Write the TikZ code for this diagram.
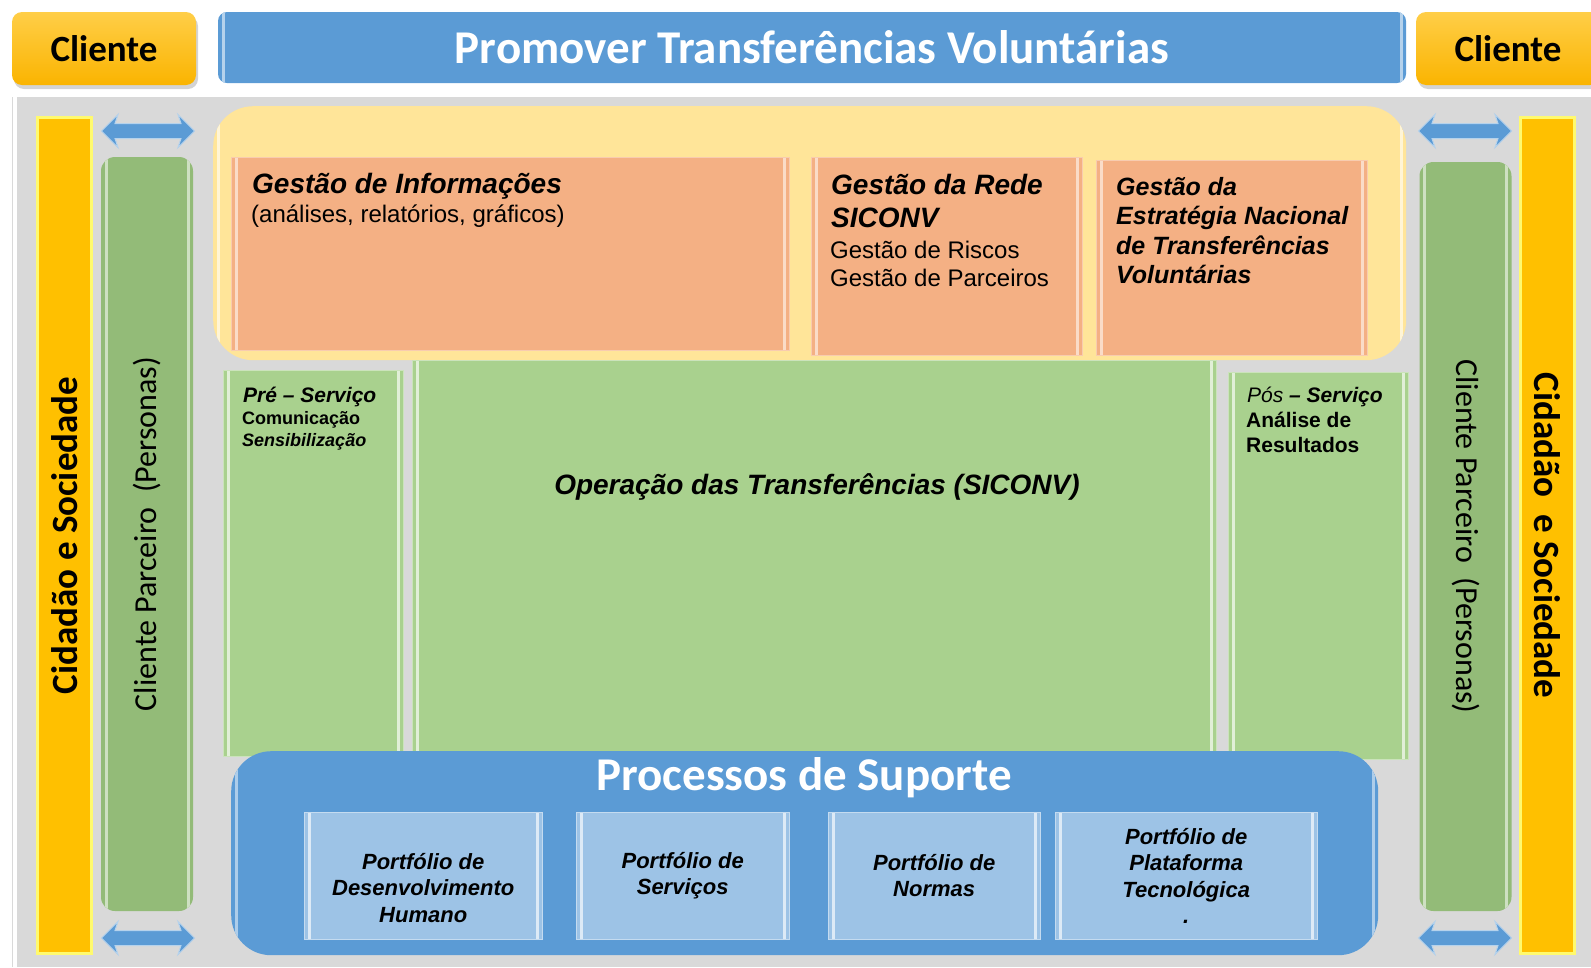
\documentclass[tikz,border=0pt]{standalone}
\usepackage{fontspec}
\setmainfont{Liberation Sans}
\newfontfamily\calibri{Carlito}
\usetikzlibrary{shapes.arrows,shadows}
\definecolor{cliTop}{RGB}{255,206,72}
\definecolor{cliBot}{RGB}{250,180,0}
\definecolor{azul}{RGB}{91,155,213}
\definecolor{azulClaro}{RGB}{157,195,230}
\definecolor{cinza}{RGB}{217,217,217}
\definecolor{ouro}{RGB}{255,192,0}
\definecolor{ouroBrilho}{RGB}{255,250,110}
\definecolor{verdeEsc}{RGB}{147,187,120}
\definecolor{verde}{RGB}{169,209,142}
\definecolor{creme}{RGB}{255,229,153}
\definecolor{salmao}{RGB}{244,176,132}
\newcommand{\fsz}[1]{\fontsize{#1}{#1}\selectfont}
\tikzset{
	bevel/.style={path picture={
		\draw[#1, line width=3pt] ([xshift=5pt]path picture bounding box.north west)--([xshift=5pt]path picture bounding box.south west);
		\draw[#1, line width=3pt] ([xshift=-5pt]path picture bounding box.north east)--([xshift=-5pt]path picture bounding box.south east);
	}},
	cliente/.style={rounded corners=10pt, top color=cliTop, bottom color=cliBot, drop shadow={opacity=0.35, shadow xshift=2pt, shadow yshift=-4pt}, minimum width=184pt, minimum height=73pt, inner sep=0pt, font=\calibri\bfseries\fsz{37}},
	titlebar/.style={rounded corners=9pt, fill=azul, bevel=white!55!azul, text=white, inner sep=0pt, font=\calibri\bfseries\fsz{47}},
	cidbar/.style={fill=ouro, draw=ouroBrilho, line width=3pt, minimum width=54pt, minimum height=836pt, inner sep=0pt},
	parbar/.style={rounded corners=14pt, fill=verdeEsc, bevel=white!55!verdeEsc, minimum width=92pt, inner sep=0pt},
	vtxt/.style={inner sep=0pt, font=\calibri\fsz{32}},
	dblarrow/.style={double arrow, fill=azul, draw=white!55!azul, line width=1pt, minimum height=93pt, inner xsep=0pt, inner ysep=7pt, double arrow head extend=9pt, double arrow head indent=3pt},
	obox/.style={fill=salmao, draw=white!35!salmao, bevel=white!55!salmao, anchor=north west, inner sep=0pt},
	gbox/.style={fill=verde, draw=white!40!verde, bevel=white!65!verde, anchor=north west, inner sep=0pt},
	pbox/.style={fill=azulClaro, draw=white!40!azulClaro, bevel=white!65!azulClaro, anchor=north west, inner sep=0pt, align=center, font=\bfseries\itshape\fontsize{22}{26.5}\selectfont},
	bi/.style={anchor=base west, inner sep=0pt, font=\bfseries\itshape\fsz{#1}},
	rg/.style={anchor=base west, inner sep=0pt, font=\fsz{#1}},
}

\begin{document}
\begin{tikzpicture}[x=1pt, y=-1pt]
		\useasboundingbox (0,0) rectangle (1591,967);
		\fill[cinza] (12,97) rectangle (1591,967);
		\draw[white, line width=4pt] (15,97)--(15,967);
		%
		\node (cliL)[cliente] at (104,48.5) {Cliente};
		\node (cliR)[cliente] at (1508,48.5) {Cliente};
		\node (titulo)[titlebar, minimum width=1188pt, minimum height=71pt] at (812,47.5) {Promover Transferências Voluntárias};
		%
		\node (cidL)[cidbar] at (64.5,535.5) {};
		\node (cidLt)[vtxt, rotate=90, font=\calibri\bfseries\fsz{37}] at (cidL.center) {Cidadão e Sociedade};
		\node (cidR)[cidbar] at (1547.5,535.5) {};
		\node (cidRt)[vtxt, rotate=-90, font=\calibri\bfseries\fsz{37}] at (cidR.center) {Cidadão~ e Sociedade};
		%
		\node (parL)[parbar, minimum height=754pt] at (147,534) {};
		\node (parLt)[vtxt, rotate=90] at (parL.center) {Cliente Parceiro~ (Personas)};
		\node (parR)[parbar, minimum height=749pt] at (1465.5,536.5) {};
		\node (parRt)[vtxt, rotate=-90] at (parR.center) {Cliente Parceiro~ (Personas)};
		%
		\node (setaLa)[dblarrow] at (148,131) {};
		\node (setaLb)[dblarrow] at (148,938) {};
		\node (setaRa)[dblarrow] at (1465,131) {};
		\node (setaRb)[dblarrow] at (1465,938) {};
		%
		\node (gestao)[rounded corners=40pt, fill=creme, bevel=white!60!creme, anchor=north west, minimum width=1193pt, minimum height=254pt, inner sep=0pt] at (213,106) {};
		\node (info)[obox, minimum width=558pt, minimum height=193pt] at (231,157) {};
		\node (rede)[obox, minimum width=271pt, minimum height=198pt] at (811,157) {};
		\node (estr)[obox, minimum width=271pt, minimum height=195pt] at (1096,160) {};
		\node (info1)[bi=28] at (252,193) {Gestão de Informações};
		\node (info2)[rg=24] at (251,222) {(análises, relatórios, gráficos)};
		\node (rede1)[bi=28] at (831,194) {Gestão da Rede};
		\node (rede2)[bi=28] at (831,227) {SICONV};
		\node (rede3)[rg=24] at (830,258) {Gestão de Riscos};
		\node (rede4)[rg=24] at (830,286) {Gestão de Parceiros};
		\foreach \t [count=\i] in {Gestão da, Estratégia Nacional, de Transferências, Voluntárias}
			\node (estr\i)[bi=25] at (1116,165.5+29.5*\i) {\t};
		%
		\node (pre)[gbox, minimum width=180pt, minimum height=386pt] at (223,370) {};
		\node (oper)[gbox, minimum width=804pt, minimum height=396pt] at (412,360) {};
		\node (pos)[gbox, minimum width=180pt, minimum height=387pt] at (1228,372) {};
		\node (pre1)[bi=21] at (243,402) {Pré – Serviço};
		\node (pre2)[rg=18, font=\bfseries\fsz{18}] at (242,424) {Comunicação};
		\node (pre3)[bi=18] at (242,446) {Sensibilização};
		\node (oper1)[bi=28, anchor=base] at (817,494) {Operação das Transferências (SICONV)};
		\node (pos1)[rg=21] at (1247,402) {\itshape Pós \bfseries– Serviço};
		\node (pos2)[rg=21, font=\bfseries\fsz{21}] at (1246,427) {Análise de};
		\node (pos3)[rg=21, font=\bfseries\fsz{21}] at (1246,452) {Resultados};
		%
		\node (suporte)[rounded corners=40pt, fill=azul, bevel=white!50!azul, anchor=north west, minimum width=1147pt, minimum height=204pt, inner sep=0pt] at (231,751) {};
		\node (suporte1)[anchor=base, inner sep=0pt, text=white, font=\calibri\bfseries\fsz{47}] at (804,790) {Processos de Suporte};
		\node (port1)[pbox, minimum width=238pt, minimum height=127pt] at (304,812) {\rule{0pt}{40pt}Portfólio de\\Desenvolvimento\\Humano};
		\node (port2)[pbox, minimum width=213pt, minimum height=127pt] at (576,812) {Portfólio de\\Serviços};
		\node (port3)[pbox, minimum width=212pt, minimum height=127pt] at (828,812) {Portfólio de\\Normas};
		\node (port4)[pbox, minimum width=262pt, minimum height=127pt] at (1055,812) {Portfólio de\\Plataforma\\Tecnológica\\.};
	\end{tikzpicture}
\end{document}
